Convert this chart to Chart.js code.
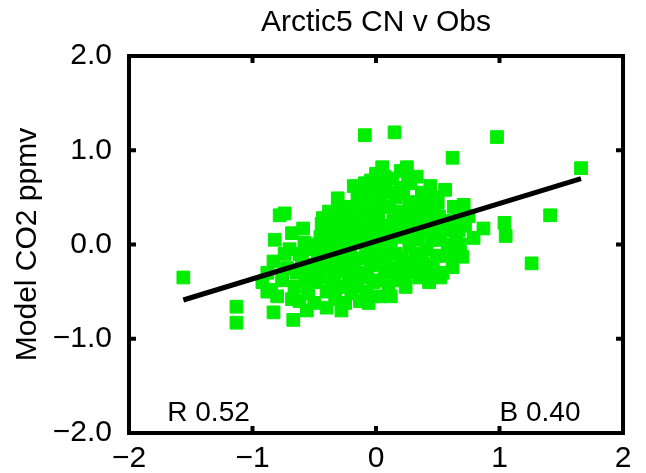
<!DOCTYPE html>
<html>
<head>
<meta charset="utf-8">
<title>Arctic5 CN v Obs</title>
<script src="https://cdn.jsdelivr.net/npm/chart.js@4"></script>
<style>
  html, body { margin: 0; padding: 0; background: #fff; }
</style>
</head>
<body>
<canvas id="scatter" width="646" height="473"></canvas>
<script>
const chartTitle = "Arctic5 CN v Obs";
const yTitle = "Model CO2 ppmv";

const xTicks = [-2, -1, 0, 1, 2];
const yTicks = [-2, -1, 0, 1, 2];

// regression summary printed in the plot
const fitR = 0.52;
const fitSlope = 0.40;
const fitIntercept = 0.035;

// observed anomaly (x) vs model anomaly (y), ppmv
const obsX = [
  // isolated points
  -1.56, -1.13, -1.13, -0.83, -0.67, -0.56, -0.40, -0.09, 0.15, 0.62, 0.98, 1.04, 1.05, 1.26, 1.41, 1.66,
  // left edge of the cloud
  -0.92, -0.88, -0.85, -0.83, -0.82, -0.78, -0.74, -0.80, -0.76, -0.72, -0.70, -0.68,
  -0.66, -0.64, -0.62, -0.60, -0.58, -0.57, -0.55, -0.53, -0.59, -0.74, -0.68, -0.88,
  // -0.5 .. -0.2
  -0.50, -0.48, -0.47, -0.45, -0.44, -0.42, -0.40, -0.38, -0.37, -0.35, -0.34,
  -0.33, -0.31, -0.30, -0.29, -0.28, -0.27, -0.25, -0.24, -0.23, -0.22, -0.21,
  -0.20, -0.52, -0.46, -0.41, -0.36, -0.32, -0.26, -0.43, -0.39, -0.28, -0.22,
  // around zero
  -0.18, -0.17, -0.16, -0.15, -0.14, -0.13, -0.12, -0.11, -0.10, -0.09,
  -0.08, -0.07, -0.06, -0.05, -0.04, -0.03, -0.02, -0.01, 0.00, 0.01,
  0.02, 0.03, 0.04, 0.05, 0.06, 0.07, 0.08, 0.09, 0.10, 0.11,
  0.12, 0.13, 0.14, 0.15, 0.16, 0.17, 0.18, 0.19, 0.20, -0.19,
  -0.15, -0.06, 0.00, 0.04, 0.10, -0.12, 0.07, 0.02, -0.02, 0.12,
  // 0.2 .. 0.65
  0.21, 0.22, 0.23, 0.24, 0.25, 0.26, 0.27, 0.28, 0.29, 0.30, 0.31,
  0.32, 0.33, 0.34, 0.35, 0.36, 0.37, 0.38, 0.39, 0.40, 0.41, 0.42,
  0.43, 0.44, 0.45, 0.46, 0.47, 0.48, 0.49, 0.50, 0.52, 0.54, 0.56,
  0.58, 0.60, 0.62, 0.63, 0.65, 0.27, 0.34, 0.41, 0.23, 0.39,
  // right edge
  0.70, 0.71, 0.72, 0.75, 0.79, 0.87, 0.68, 0.44, 0.52, 0.66,
  // dense core along the fit
  -0.62, -0.55, -0.51, -0.49, -0.45, -0.44, -0.41, -0.38, -0.35, -0.33,
  -0.31, -0.29, -0.27, -0.25, -0.24, -0.21, -0.19, -0.18, -0.16, -0.14,
  -0.13, -0.11, -0.10, -0.08, -0.07, -0.05, -0.04, -0.03, -0.01, 0.01,
  0.03, 0.05, 0.06, 0.08, 0.09, 0.11, 0.13, 0.14, 0.16, 0.18,
  0.20, 0.22, 0.24, 0.26, 0.28, 0.30, 0.32, 0.35, 0.37, 0.40,
  0.43, 0.46, 0.48, 0.51, 0.53, 0.55, 0.58, 0.61, 0.64, 0.67
];
const modelY = [
  -0.35, -0.66, -0.83, -0.72, -0.80, -0.70, -0.67, 1.16, 1.19, 0.92, 1.14, 0.23, 0.09, -0.20, 0.31, 0.81,
  -0.40, -0.30, -0.48, -0.18, 0.05, 0.31, 0.33, -0.55, -0.38, -0.25, -0.05, 0.12,
  -0.45, -0.30, -0.60, -0.15, 0.02, -0.38, -0.52, -0.22, 0.17, -0.10, -0.58, -0.50,
  -0.62, -0.40, -0.10, 0.08, 0.22, -0.28, -0.50, 0.35, -0.05, 0.15, -0.35,
  -0.58, 0.49, 0.28, -0.18, 0.05, -0.45, -0.62, 0.40, -0.28, 0.18, -0.02,
  -0.52, 0.00, -0.25, -0.15, -0.45, 0.10, -0.10, 0.28, 0.05, -0.70, -0.38,
  0.62, 0.30, -0.15, -0.45, 0.10, -0.60, 0.45, -0.30, 0.22, 0.65,
  -0.08, -0.50, 0.35, 0.05, -0.22, 0.55, -0.40, 0.18, 0.75, -0.12,
  0.30, -0.55, 0.48, 0.82, 0.02, -0.30, 0.62, 0.15, -0.45, 0.40,
  -0.05, 0.70, 0.25, -0.25, 0.50, 0.08, -0.38, 0.35, 0.78, -0.25,
  0.48, -0.62, 0.38, -0.20, 0.05, 0.02, 0.72, 0.55, 0.22, -0.55,
  -0.15, 0.55, 0.10, -0.45, 0.82, 0.32, -0.02, 0.65, -0.30, 0.20, 0.45,
  -0.10, 0.72, 0.05, -0.35, 0.38, 0.55, -0.20, 0.15, 0.30, -0.05, 0.48,
  -0.40, 0.62, 0.10, -0.25, 0.35, 0.22, -0.12, 0.45, 0.05, -0.30, 0.58,
  0.25, -0.10, -0.24, 0.40, 0.10, 0.42, 0.28, 0.20, -0.35, -0.30,
  -0.13, 0.42, 0.20, 0.30, 0.07, 0.17, 0.00, -0.30, -0.35, 0.30,
  -0.10, -0.30, -0.05, -0.22, -0.35, -0.02, 0.12, -0.22, -0.08, 0.22,
  -0.28, 0.38, 0.15, -0.20, -0.05, 0.30, 0.08, -0.40, 0.20, -0.32,
  0.38, -0.15, 0.55, 0.12, -0.35, 0.28, 0.68, -0.10, 0.45, 0.05,
  -0.38, 0.20, 0.60, -0.15, 0.40, -0.30, 0.12, 0.55, -0.10, 0.22,
  0.60, -0.25, 0.20, 0.68, 0.08, -0.20, 0.35, 0.15, -0.12, 0.42,
  0.25, 0.05, 0.50, 0.30, -0.12, 0.15, 0.00, 0.20, -0.05, 0.15
];

const FONT = '"Liberation Sans", Arial, Helvetica, sans-serif';

const points = obsX.map((x, i) => ({ x, y: modelY[i] }));
const xLo = Math.min(...obsX);
const xHi = Math.max(...obsX);
const fitLine = [xLo, xHi].map(x => ({ x, y: fitSlope * x + fitIntercept }));

// box, inward ticks, title and the R / B labels
const frame = {
  id: "frame",
  afterDatasetsDraw(chart) {
    const { ctx, chartArea: a, scales: { x, y } } = chart;
    ctx.save();
    ctx.strokeStyle = "#000";
    ctx.lineWidth = 4;
    ctx.strokeRect(a.left, a.top, a.right - a.left, a.bottom - a.top);

    ctx.beginPath();
    xTicks.slice(1, -1).forEach(v => {
      const px = x.getPixelForValue(v);
      ctx.moveTo(px, a.bottom); ctx.lineTo(px, a.bottom - 7);
      ctx.moveTo(px, a.top); ctx.lineTo(px, a.top + 7);
    });
    yTicks.slice(1, -1).forEach(v => {
      const py = y.getPixelForValue(v);
      ctx.moveTo(a.left, py); ctx.lineTo(a.left + 7, py);
      ctx.moveTo(a.right, py); ctx.lineTo(a.right - 7, py);
    });
    ctx.stroke();

    ctx.fillStyle = "#000";
    ctx.font = "30px " + FONT;
    ctx.textAlign = "center";
    ctx.textBaseline = "middle";
    ctx.fillText(chartTitle, (a.left + a.right) / 2, 23);

    ctx.font = "28px " + FONT;
    ctx.textAlign = "left";
    ctx.textBaseline = "alphabetic";
    ctx.fillText("R " + fitR.toFixed(2), x.getPixelForValue(-1.69), y.getPixelForValue(-1.87));
    ctx.fillText("B " + fitSlope.toFixed(2), x.getPixelForValue(1.0), y.getPixelForValue(-1.87));
    ctx.restore();
  }
};

new Chart(document.getElementById("scatter"), {
  type: "scatter",
  data: {
    datasets: [
      {
        type: "line",
        data: fitLine,
        borderColor: "#000",
        borderWidth: 5,
        pointRadius: 0,
        fill: false,
        order: 0
      },
      {
        data: points,
        pointStyle: "rect",
        pointRadius: 9,
        backgroundColor: "#00ee00",
        borderColor: "#00ee00",
        borderWidth: 1,
        order: 1
      }
    ]
  },
  options: {
    responsive: false,
    animation: false,
    layout: { padding: { left: 10, top: 56, right: 23, bottom: 0 } },
    plugins: { legend: { display: false }, tooltip: { enabled: false } },
    scales: {
      x: {
        type: "linear",
        min: -2,
        max: 2,
        afterBuildTicks: s => { s.ticks = xTicks.map(value => ({ value })); },
        afterFit: s => { s.height = 40; },
        grid: { display: false },
        border: { display: false },
        ticks: {
          padding: 0,
          color: "#000",
          font: { family: FONT, size: 30 },
          callback: v => (v < 0 ? "\u2212" : "") + Math.abs(v)
        }
      },
      y: {
        type: "linear",
        min: -2,
        max: 2,
        afterBuildTicks: s => { s.ticks = yTicks.map(value => ({ value })); },
        afterFit: s => { s.width = 119; },
        grid: { display: false },
        border: { display: false },
        title: {
          display: true,
          text: yTitle,
          color: "#000",
          font: { family: FONT, size: 30 },
          padding: { top: 0, bottom: 0 }
        },
        ticks: {
          padding: 9,
          color: "#000",
          font: { family: FONT, size: 30 },
          callback: v => (v < 0 ? "\u2212" : "") + Math.abs(v).toFixed(1)
        }
      }
    }
  },
  plugins: [frame]
});
</script>
</body>
</html>
